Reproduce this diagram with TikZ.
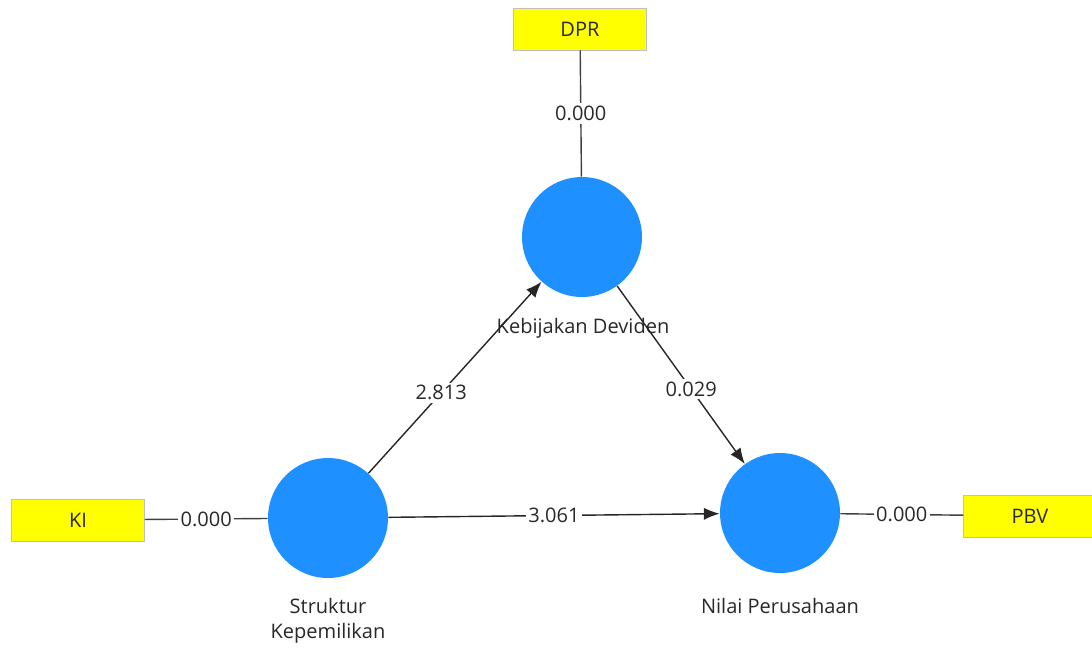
\documentclass[tikz,border=0pt]{standalone}
\usepackage{fontspec}
\setmainfont{Open Sans}
\usetikzlibrary{arrows.meta}
\definecolor{lvblue}{RGB}{30,144,255}
\definecolor{mvyellow}{RGB}{255,255,0}
\definecolor{txtgray}{RGB}{40,40,40}
\begin{document}
\begin{tikzpicture}[x=0.02cm,y=-0.02cm,
        font=\fontsize{11.4}{14}\selectfont, text=txtgray,
        latent/.style={circle,fill=lvblue,minimum size=2.4cm,inner sep=0pt},
        indicator/.style={rectangle,fill=mvyellow,draw=black!25,line width=0.3pt,minimum width=2.66cm,minimum height=0.84cm},
        coef/.style={fill=white,inner sep=1.5pt},
        path/.style={-{Latex[length=9pt,width=7pt]},line width=0.8pt,draw=black!85},
        load/.style={line width=0.8pt,draw=black!75}]
    \useasboundingbox (0,0) rectangle (1092,653);
    % latent variables
    \node[latent] (kd) at (582,237) {};
    \node[latent] (sk) at (328,518) {};
    \node[latent] (np) at (780,513) {};
    \node (kdlabel) at (583,328) {Kebijakan Deviden};
    \node[align=center] (sklabel) at (328,621) {Struktur\\Kepemilikan};
    \node (nplabel) at (780,606) {Nilai Perusahaan};
    % indicators
    \node[indicator] (dpr) at (580,29) {DPR};
    \node[indicator] (ki) at (78,520) {KI};
    \node[indicator] (pbv) at (1030,516) {PBV};
    % outer loadings
    \draw[load] (dpr) -- node[coef] {0.000} (kd);
    \draw[load] (ki) -- node[coef] {0.000} (sk);
    \draw[load] (np) -- node[coef] {0.000} (pbv);
    % inner paths
    \draw[path] (sk) -- node[coef,pos=0.42] {2.813} (kd);
    \draw[path] (kd) -- node[coef,pos=0.58] {0.029} (np);
    \draw[path] (sk) -- node[coef,pos=0.5] {3.061} (np);
\end{tikzpicture}
\end{document}
